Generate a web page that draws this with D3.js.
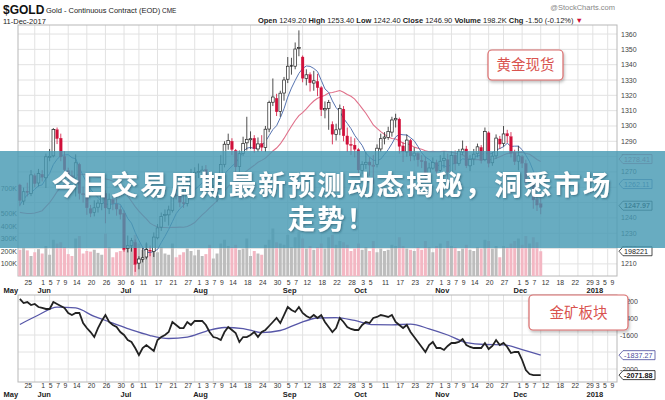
<!DOCTYPE html>
<html><head><meta charset="utf-8">
<script src="https://cdn.jsdelivr.net/npm/d3@7"></script>
<style>
html,body{margin:0;padding:0;background:#fff;}
svg{display:block;font-family:Arial,"Liberation Sans",sans-serif;}
</style></head><body>
<svg id="chart" width="665" height="400"></svg>
<script>
// ---------- data ----------
const startDate = "2017-05-23";
const endDate = "2018-01-10";
const holidays = ["2017-05-29","2017-07-04","2017-09-04","2017-11-23","2017-12-25","2018-01-01"];
const priorCloses = [1275.5,1267.5,1264.1,1263.5,1268.3,1255.5,1257.2,1248.2,1228.5,1228.1,1227.5,1218.1,1220.4,1225.4,1228.5,1230.5,1236.4,1258.4,1246.6,1253.6,1261.7];
const opens = [1261.5,1251.0,1257.5,1256.0,1267.5,1262.8,1268.5,1266.2,1280.0,1280.5,
1297.5,1292.0,1280.0,1271.0,1267.5,1266.0,1275.0,1255.5,1255.0,1246.0,
1243.5,1247.0,1249.5,1256.0,1246.0,1252.0,1249.0,1245.5,1243.0,1220.0,
1222.0,1224.0,1210.5,1213.0,1214.5,1219.0,1218.0,1227.0,1234.0,1241.5,
1242.0,1245.0,1255.0,1255.0,1250.0,1249.5,1260.5,1269.0,1270.0,1270.0,
1271.5,1268.0,1257.5,1258.5,1262.0,1275.0,1288.0,1290.0,1284.0,1273.5,
1282.0,1289.0,1291.0,1292.0,1285.0,1288.5,1286.0,1298.0,1315.5,1318.0,
1309.5,1321.5,1330.5,1339.5,1339.0,1350.5,1345.0,1331.0,1333.5,1328.0,
1329.0,1325.0,1310.5,1311.5,1301.0,1294.5,1298.0,1311.0,1293.5,1288.0,
1287.5,1284.5,1271.0,1275.0,1276.5,1274.0,1275.0,1285.0,1292.0,1292.5,
1296.0,1304.0,1304.5,1287.0,1283.0,1290.5,1280.5,1282.0,1277.5,1277.0,
1266.0,1272.5,1276.0,1271.0,1277.5,1278.0,1269.5,1281.0,1275.5,1283.0,
1285.0,1274.0,1278.5,1282.0,1286.0,1278.0,1295.5,1276.0,1280.5,1291.5,
1288.5,1295.0,1293.0,1282.5,1277.0,1280.0,1275.5,1263.0,1265.0,1252.0,
1249.2];
const highs = [1262.3,1259.8,1263.0,1271.3,1269.0,1272.0,1271.2,1282.0,1285.0,1298.6,
1299.0,1295.0,1283.5,1272.8,1271.0,1281.5,1276.0,1260.5,1257.0,1248.5,
1251.5,1252.0,1258.5,1258.0,1256.0,1254.5,1252.5,1248.0,1245.0,1228.5,
1227.0,1226.0,1215.0,1220.5,1224.0,1222.0,1230.5,1236.0,1243.5,1245.5,
1248.0,1257.0,1259.0,1256.5,1262.0,1264.0,1272.0,1273.0,1275.5,1274.0,
1274.5,1270.5,1261.5,1267.0,1281.0,1290.0,1295.0,1292.0,1285.0,1284.0,
1293.0,1306.0,1296.5,1294.0,1292.5,1294.0,1300.0,1316.5,1331.0,1321.0,
1323.0,1332.0,1345.0,1344.5,1354.5,1362.4,1346.0,1337.0,1335.0,1336.0,
1334.0,1326.0,1316.0,1317.0,1303.0,1301.5,1314.0,1313.0,1299.0,1293.0,
1292.0,1285.5,1277.0,1283.0,1279.5,1281.0,1288.0,1295.0,1296.0,1299.5,
1306.0,1308.0,1305.5,1289.5,1294.5,1291.5,1286.0,1283.0,1281.0,1280.0,
1276.0,1279.5,1278.0,1281.0,1283.5,1282.0,1283.5,1284.0,1285.0,1290.5,
1287.0,1281.0,1285.0,1288.5,1287.5,1299.0,1296.5,1283.0,1294.5,1293.5,
1300.0,1297.5,1296.0,1284.5,1287.0,1281.0,1278.0,1269.0,1266.0,1254.0,
1253.4];
const lows = [1247.6,1248.5,1254.0,1254.2,1260.0,1260.5,1263.8,1259.5,1277.0,1279.5,
1288.2,1277.0,1268.3,1264.0,1262.5,1254.0,1252.0,1250.0,1242.0,1240.5,
1241.0,1243.5,1245.0,1236.5,1242.5,1245.0,1241.5,1239.0,1218.0,1217.5,
1218.0,1204.8,1206.5,1211.0,1213.0,1215.0,1214.5,1226.0,1231.5,1237.5,
1235.0,1243.5,1252.0,1247.0,1246.5,1247.5,1259.0,1265.0,1266.0,1265.5,
1265.0,1254.5,1255.0,1250.5,1261.0,1273.0,1284.5,1281.0,1268.5,1270.0,
1280.5,1284.0,1285.0,1282.5,1283.0,1283.5,1283.0,1296.0,1313.0,1306.5,
1306.0,1316.5,1328.0,1333.5,1337.0,1345.5,1328.5,1326.5,1322.5,1323.0,
1319.5,1306.5,1305.0,1297.5,1288.0,1290.5,1294.0,1290.0,1283.0,1281.0,
1279.5,1268.0,1268.5,1272.0,1267.5,1262.0,1273.0,1283.0,1288.0,1291.0,
1293.0,1299.0,1282.0,1276.5,1280.0,1277.0,1277.5,1273.5,1272.5,1263.5,
1264.5,1271.5,1268.5,1270.0,1272.5,1264.0,1267.5,1271.0,1274.0,1281.0,
1272.5,1270.5,1274.5,1279.5,1275.5,1277.0,1273.0,1274.0,1278.5,1285.0,
1286.5,1289.0,1279.5,1274.5,1271.0,1272.5,1259.5,1260.0,1246.0,1244.5,
1242.4];
const closes = [1251.4,1257.1,1256.6,1268.1,1262.4,1268.9,1266.6,1279.9,1280.2,1297.8,
1291.8,1279.8,1271.4,1268.0,1266.0,1276.0,1256.0,1255.8,1246.6,1243.1,
1246.6,1249.7,1256.1,1246.5,1252.2,1249.4,1245.8,1242.3,1219.4,1221.9,
1225.1,1209.7,1213.2,1214.0,1219.3,1218.6,1227.5,1233.5,1241.0,1242.3,
1245.2,1254.9,1254.8,1250.2,1249.3,1260.8,1269.1,1269.7,1270.2,1271.2,
1268.1,1257.9,1258.5,1261.5,1274.9,1288.1,1290.6,1284.7,1273.3,1281.9,
1288.6,1291.3,1291.7,1285.3,1288.3,1286.1,1297.9,1315.4,1318.9,1309.3,
1321.4,1330.0,1339.0,1339.2,1350.2,1351.2,1331.2,1333.4,1328.2,1329.5,
1325.0,1310.6,1311.4,1315.4,1294.6,1297.5,1311.5,1293.6,1288.0,1287.3,
1284.8,1271.3,1274.9,1276.3,1274.5,1274.4,1285.5,1291.7,1292.8,1296.5,
1303.9,1305.0,1286.7,1283.1,1290.8,1280.5,1282.3,1277.9,1276.7,1266.5,
1272.6,1276.2,1270.5,1277.0,1278.9,1269.9,1280.8,1275.3,1283.3,1284.9,
1274.0,1278.1,1281.6,1286.4,1277.7,1296.5,1275.7,1280.3,1292.1,1288.2,
1294.8,1293.5,1282.1,1276.8,1280.5,1275.7,1262.9,1265.3,1251.7,1248.4,
1246.9];
const volumesK = [210,225,205,160,190,215,180,240,170,290,
260,270,230,175,160,300,320,180,200,195,
210,185,170,340,230,150,190,200,220,240,
250,330,260,210,260,200,240,190,230,180,
170,260,150,170,190,220,200,165,210,160,
175,250,140,180,260,290,240,230,250,210,
220,300,160,200,180,170,250,290,380,270,
260,250,330,230,310,350,300,220,240,210,
230,260,220,310,330,250,280,270,250,200,
220,260,210,230,200,280,190,220,200,210,
250,240,310,240,220,210,200,230,210,280,
230,190,240,260,220,280,240,230,200,220,
250,210,200,230,220,290,280,220,240,150,
240,230,260,280,300,250,320,260,310,270,
198.2];
// lower panel (gold miners) daily line
const minerLine = [-1176,-1224,-1212,-1247,-1235,-1271,-1282,-1294,-1294,-1212,
-1235,-1259,-1282,-1341,-1365,-1341,-1341,-1459,-1518,-1565,
-1624,-1518,-1435,-1365,-1447,-1482,-1506,-1565,-1600,-1659,
-1682,-1753,-1835,-1753,-1718,-1753,-1788,-1659,-1624,-1600,
-1565,-1447,-1482,-1518,-1518,-1447,-1482,-1435,-1435,-1435,
-1482,-1565,-1624,-1635,-1659,-1565,-1506,-1541,-1576,-1682,
-1624,-1624,-1600,-1565,-1624,-1565,-1541,-1494,-1447,-1400,
-1459,-1365,-1271,-1306,-1329,-1271,-1341,-1376,-1400,-1365,
-1400,-1365,-1447,-1506,-1565,-1518,-1400,-1447,-1506,-1529,
-1541,-1541,-1482,-1447,-1459,-1400,-1388,-1365,-1376,-1388,
-1365,-1447,-1482,-1518,-1482,-1565,-1624,-1682,-1741,-1800,
-1718,-1682,-1753,-1753,-1776,-1729,-1694,-1694,-1682,-1647,
-1718,-1741,-1753,-1753,-1753,-1694,-1765,-1729,-1659,-1718,
-1694,-1741,-1812,-1800,-1800,-1894,-2012,-2059,-2072,-2072,
-2071.88];
// lower panel moving average, sampled every 5 trading days
const minerAvgDay = [0,5,10,15,20,25,30,35,40,45,50,55,60,65,70,75,80,85,90,95,100,105,110,115,120,125,130,135,140];
const minerAvg = [-1476,-1365,-1271,-1282,-1382,-1459,-1541,-1606,-1641,-1624,-1556,-1512,-1524,-1571,-1547,-1462,-1400,-1395,-1429,-1478,-1480,-1473,-1527,-1600,-1689,-1712,-1715,-1771,-1837.27];

const priceTicks = [1210,1220,1230,1240,1270,1280,1290,1300,1310,1320,1330,1340,1350,1360];
const priceGrid = [1210,1220,1230,1240,1250,1260,1270,1280,1290,1300,1310,1320,1330,1340,1350,1360];
const volTicksK = [100,200,300,400,500,700];
const lowerTicks = [-1200,-1400,-1600,-2000];
const tickDates = ["2017-05-25","2017-06-01","2017-06-05","2017-06-07","2017-06-09","2017-06-14","2017-06-20","2017-06-26","2017-06-30","2017-07-06","2017-07-11","2017-07-17","2017-07-21","2017-07-27","2017-08-01","2017-08-03","2017-08-07","2017-08-09","2017-08-14","2017-08-18","2017-08-24","2017-08-30","2017-09-05","2017-09-07","2017-09-12","2017-09-18","2017-09-22","2017-09-28","2017-10-03","2017-10-05","2017-10-11","2017-10-17","2017-10-23","2017-10-27","2017-11-01","2017-11-03","2017-11-07","2017-11-09","2017-11-14","2017-11-20","2017-11-27","2017-12-01","2017-12-05","2017-12-07","2017-12-12","2017-12-18","2017-12-22","2017-12-29","2018-01-03","2018-01-05","2018-01-09"];
const monthNames = ["Jun","Jul","Aug","Sep","Oct","Nov","Dec","2018"];
const monthDates = ["2017-06-01","2017-07-03","2017-08-01","2017-09-05","2017-10-02","2017-11-01","2017-12-01","2018-01-02"];
const priceTags = [{v:1278.41,c:"#d0607a"},{v:1262.11,c:"#4a6aa8"},{v:1247.97,c:"#222"}];

// ---------- build ----------
const fmt = d3.timeFormat("%Y-%m-%d");
const parse = d3.timeParse("%Y-%m-%d");
const days = [];
for (let d = parse(startDate); d <= parse(endDate); d = d3.timeDay.offset(d,1)) {
  const wd = d.getDay(); const s = fmt(d);
  if (wd === 0 || wd === 6 || holidays.includes(s)) continue;
  days.push(d);
}
const dayIndex = new Map(days.map((d,i)=>[fmt(d),i]));
const N = closes.length;

const svg = d3.select("#chart");
const L = 18, R = 617;
const x = d3.scaleLinear().domain([-0.5, days.length-0.5]).range([L,R]);
const step = x(1)-x(0);
const yP = d3.scaleLinear().domain([1202.1,1365.9]).range([276,25]);
const yV = d3.scaleLinear().domain([0,100]).range([276,263.5]);
const yL = d3.scaleLinear().domain([-2152.9,-1129.4]).range([382,295]);

// header
const hdr = svg.append("g");
hdr.append("text").attr("x",3).attr("y",13.5).attr("font-size",12).attr("font-weight","bold").attr("fill","#111").text("$GOLD");
hdr.append("text").attr("x",46).attr("y",12.5).attr("font-size",7.5).attr("fill","#222").text("Gold - Continuous Contract (EOD)");
hdr.append("text").attr("x",162).attr("y",12.5).attr("font-size",6.5).attr("fill","#222").text("CME");
hdr.append("text").attr("x",3).attr("y",24).attr("font-size",7.5).attr("fill","#222").text("11-Dec-2017");
hdr.append("text").attr("x",615).attr("y",10).attr("text-anchor","end").attr("font-size",7.5).attr("fill","#888").text("@StockCharts.com");
const ohlc = hdr.append("text").attr("x",583).attr("y",23).attr("text-anchor","end").attr("font-size",7.5).attr("fill","#222");
[["Open ",true],["1249.20 ",false],["High ",true],["1253.40 ",false],["Low ",true],["1242.40 ",false],["Close ",true],["1246.90 ",false],["Volume ",true],["198.2K ",false],["Chg ",true],["-1.50 (-0.12%) ",false]].forEach(([t,b])=>{
  ohlc.append("tspan").attr("font-weight",b?"bold":"normal").text(t);
});
ohlc.append("tspan").attr("fill","#d0103a").text("▼");

// panels background/grid
function vGrid(top,bot){
  const g = svg.append("g");
  days.forEach((d,i)=>{
    if (i===0) return;
    if (d3.timeMonday.floor(d).getTime() !== d3.timeMonday.floor(days[i-1]).getTime()) {
      g.append("line").attr("x1",x(i)).attr("x2",x(i)).attr("y1",top).attr("y2",bot).attr("stroke","#e2e2e2").attr("stroke-width",1);
    }
  });
}
vGrid(25,276); vGrid(295,382);
const hg = svg.append("g");
priceGrid.forEach(v=>{
  hg.append("line").attr("x1",L).attr("x2",R).attr("y1",yP(v)).attr("y2",yP(v)).attr("stroke","#e2e2e2");
});
priceTicks.forEach(v=>{
  hg.append("text").attr("x",621).attr("y",yP(v)+2.5).attr("font-size",7).attr("fill","#444").text(v);
});
[-1200,-1400,-1600,-1800,-2000].forEach(v=>{
  hg.append("line").attr("x1",L).attr("x2",R).attr("y1",yL(v)).attr("y2",yL(v)).attr("stroke","#e2e2e2");
});
lowerTicks.forEach(v=>{
  hg.append("text").attr("x",620).attr("y",yL(v)+2.5).attr("font-size",7).attr("fill","#444").text(v);
});
volTicksK.forEach(v=>{
  hg.append("text").attr("x",17).attr("y",yV(v)+2.5).attr("text-anchor","end").attr("font-size",7).attr("fill","#444").text(v+"K");
});
svg.append("rect").attr("x",L).attr("y",25).attr("width",R-L).attr("height",251).attr("fill","none").attr("stroke","#b8b8b8");
svg.append("rect").attr("x",L).attr("y",295).attr("width",R-L).attr("height",87).attr("fill","none").attr("stroke","#b8b8b8");

// volume
const prevClose = i => i===0 ? priorCloses[priorCloses.length-1] : closes[i-1];
svg.append("g").selectAll("rect").data(volumesK).join("rect")
  .attr("x",(d,i)=>x(i)-step*0.4).attr("width",step*0.8)
  .attr("y",d=>yV(d)).attr("height",d=>yV(0)-yV(d))
  .attr("fill",(d,i)=> closes[i] >= prevClose(i) ? "#bdbdbd" : "#f3b7c3");

// moving averages of price
const allC = priorCloses.concat(closes);
function sma(n){ return closes.map((c,i)=>{ const j=i+priorCloses.length; return d3.mean(allC.slice(j-n+1,j+1)); }); }
const line = d3.line().x((d,i)=>x(i)).y(d=>yP(d));
svg.append("path").attr("d",line(sma(20))).attr("fill","none").attr("stroke","#e0708a").attr("stroke-width",1.1);
svg.append("path").attr("d",line(sma(7))).attr("fill","none").attr("stroke","#5673b0").attr("stroke-width",1);

// candles
const cg = svg.append("g");
const bw = 2.7;
closes.forEach((c,i)=>{
  const o = opens[i], col = c < prevClose(i) ? "#d0103a" : "#222";
  const hollow = c > o;
  cg.append("line").attr("x1",x(i)).attr("x2",x(i)).attr("y1",yP(highs[i])).attr("y2",yP(lows[i])).attr("stroke",col).attr("stroke-width",0.8);
  const y0 = yP(Math.max(o,c)), h = Math.max(1, Math.abs(yP(o)-yP(c)));
  cg.append("rect").attr("x",x(i)-bw/2).attr("y",y0).attr("width",bw).attr("height",h)
    .attr("fill",hollow?"#fff":col).attr("stroke",col).attr("stroke-width",hollow?0.7:0.3);
});

// price tags
function tag(yv, txt, col, bold){
  const g = svg.append("g");
  g.append("path").attr("d",`M619,${yv} L623,${yv-4.5} L652,${yv-4.5} L652,${yv+4.5} L623,${yv+4.5} Z`).attr("fill","#fff").attr("stroke",col).attr("stroke-width",0.8);
  g.append("text").attr("x",624).attr("y",yv+2.6).attr("font-size",7.2).attr("font-weight",bold?"bold":"normal").attr("fill",col).text(txt);
}
priceTags.forEach(t=>tag(yP(t.v), t.v.toFixed(2), t.c, t.c==="#222"));
tag(yV(volumesK[N-1]), "198221", "#222", false);

// x axes
function xAxis(yTick, yMonth){
  const g = svg.append("g");
  tickDates.forEach(s=>{
    const i = dayIndex.get(s);
    g.append("text").attr("x",x(i)+1).attr("y",yTick).attr("text-anchor","middle").attr("font-size",6.8).attr("fill","#333").text(+s.slice(8));
  });
  g.append("text").attr("x",x(0)-9).attr("y",yMonth).attr("text-anchor","middle").attr("font-size",7.5).attr("font-weight","bold").attr("fill","#222").text("May");
  monthNames.forEach((m,k)=>{
    const i = dayIndex.get(monthDates[k]);
    g.append("text").attr("x",x(i)+2).attr("y",yMonth).attr("text-anchor","middle").attr("font-size",7.5).attr("font-weight","bold").attr("fill","#222").text(m);
  });
}
xAxis(285,293); xAxis(388,397);

// lower panel lines
const lowAvg = d3.line().curve(d3.curveMonotoneX).x((d,k)=>x(minerAvgDay[k])).y(d=>yL(d));
svg.append("path").attr("d",lowAvg(minerAvg)).attr("fill","none").attr("stroke","#5757a8").attr("stroke-width",1.3);
svg.append("path").attr("d",d3.line().x((d,i)=>x(i)).y(d=>yL(d))(minerLine)).attr("fill","none").attr("stroke","#222").attr("stroke-width",1.8);
function tagL(v, col, bold){
  const yv = yL(v);
  const g = svg.append("g");
  g.append("path").attr("d",`M619,${yv} L623,${yv-4.5} L655,${yv-4.5} L655,${yv+4.5} L623,${yv+4.5} Z`).attr("fill","#fff").attr("stroke",col).attr("stroke-width",0.8);
  g.append("text").attr("x",624).attr("y",yv+2.6).attr("font-size",7.2).attr("font-weight",bold?"bold":"normal").attr("fill",col).text(v.toFixed(2));
}
tagL(minerAvg[minerAvg.length-1], "#4a4a9a", false);
tagL(minerLine[N-1], "#111", true);

// label boxes
const defs = svg.append("defs");
const sh = defs.append("filter").attr("id","sh").attr("x","-20%").attr("y","-20%").attr("width","150%").attr("height","160%");
sh.append("feDropShadow").attr("dx",1).attr("dy",2).attr("stdDeviation",1.5).attr("flood-color","#000").attr("flood-opacity",0.25);
const ts = defs.append("filter").attr("id","ts").attr("x","-5%").attr("y","-20%").attr("width","110%").attr("height","150%");
ts.append("feDropShadow").attr("dx",1).attr("dy",1).attr("stdDeviation",1).attr("flood-color","#1d4a5a").attr("flood-opacity",0.6);
function labelBox(x0,y0,w,h,txt){
  svg.append("rect").attr("x",x0).attr("y",y0).attr("width",w).attr("height",h).attr("rx",4)
    .attr("fill","#fff").attr("stroke","#d86a6a").attr("stroke-width",1.2).attr("filter","url(#sh)");
  svg.append("text").attr("x",x0+w/2).attr("y",y0+h/2+5).attr("text-anchor","middle")
    .attr("font-family","'Noto Sans CJK SC',sans-serif").attr("font-size",14.5).attr("fill","#d9534f").text(txt);
}
labelBox(488,50,75,30,"黄金现货");
labelBox(529,295,99,35,"金矿板块");

// overlay banner
svg.append("rect").attr("x",0).attr("y",151).attr("width",665).attr("height",97).attr("fill","rgb(71,154,179)").attr("opacity",0.82);
const bt = svg.append("g").attr("filter","url(#ts)").attr("font-family","'Noto Sans CJK SC',sans-serif").attr("font-weight","bold").attr("fill","#fff").attr("font-size",27.5).attr("text-anchor","middle");
bt.append("text").attr("x",332).attr("y",195).attr("letter-spacing",2).text("今日交易周期最新预测动态揭秘，洞悉市场");
bt.append("text").attr("x",332).attr("y",229).attr("letter-spacing",2).text("走势！");
</script>
</body></html>
